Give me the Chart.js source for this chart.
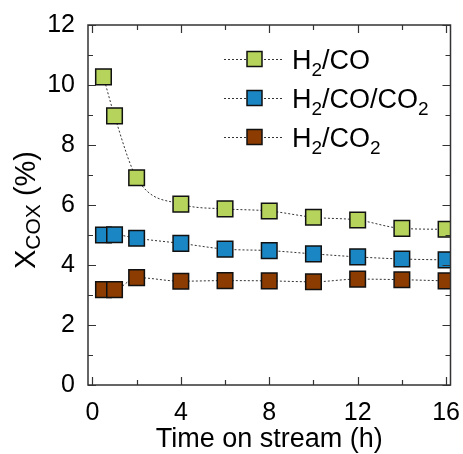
<!DOCTYPE html>
<html><head><meta charset="utf-8">
<script src="https://cdn.jsdelivr.net/npm/chart.js@4"></script>
<style>html,body{margin:0;padding:0;background:#fff}</style>
</head><body>
<div style="width:463px;height:454px"><canvas id="c" width="463" height="454"></canvas></div>
<script>
const times = [0.5, 1, 2, 4, 6, 8, 10, 12, 14, 16];
const h2co = [10.27, 8.97, 6.91, 6.03, 5.87, 5.80, 5.59, 5.50, 5.22, 5.19];
const h2coco2 = [5.00, 5.01, 4.89, 4.72, 4.53, 4.48, 4.37, 4.27, 4.20, 4.17];
const h2co2 = [3.18, 3.18, 3.58, 3.46, 3.48, 3.47, 3.44, 3.53, 3.51, 3.47];
const seriesNames = ['H2/CO', 'H2/CO/CO2', 'H2/CO2'];
const seriesColors = ['#b6d35b', '#1a86c3', '#8c3c00'];
const xTicks = [0, 4, 8, 12, 16];
const xMinor = [2, 6, 10, 14];
const yTicks = [0, 2, 4, 6, 8, 10, 12];
const yMinor = [1, 3, 5, 7, 9, 11];
const xTitle = 'Time on stream (h)';
const yTitle = 'X_COX (%)';

const FONT = '"Liberation Sans", Arial, sans-serif';
Chart.defaults.font.family = FONT;
Chart.defaults.color = '#000';

const allSeries = [h2co, h2coco2, h2co2];

function chemParts(s) {
  const parts = [];
  for (const ch of s) {
    const sub = /[0-9]/.test(ch);
    if (parts.length && parts[parts.length - 1].sub === sub) parts[parts.length - 1].t += ch;
    else parts.push({ t: ch, sub });
  }
  return parts;
}
function titleParts(s) {
  const m = s.match(/^([^_]*)_(\S+)(.*)$/);
  if (!m) return [{ t: s, sub: false }];
  return [{ t: m[1], sub: false }, { t: m[2], sub: true }, { t: m[3], sub: false }];
}
function richWidth(ctx, parts, size, subSize) {
  let w = 0;
  for (const p of parts) { ctx.font = (p.sub ? subSize : size) + 'px ' + FONT; w += ctx.measureText(p.t).width; }
  return w;
}
function drawRich(ctx, parts, x, y, size, subSize, subShift) {
  ctx.textBaseline = 'alphabetic';
  ctx.textAlign = 'left';
  for (const p of parts) {
    ctx.font = (p.sub ? subSize : size) + 'px ' + FONT;
    ctx.fillText(p.t, x, y + (p.sub ? subShift : 0));
    x += ctx.measureText(p.t).width;
  }
}

const decor = {
  id: 'decor',
  afterDraw(chart) {
    const ctx = chart.ctx, a = chart.chartArea;
    const xs = chart.scales.x, ys = chart.scales.y;
    ctx.save();
    ctx.strokeStyle = '#333';
    ctx.lineWidth = 1.5;
    ctx.strokeRect(a.left, a.top, a.right - a.left, a.bottom - a.top);
    ctx.lineWidth = 1.2;
    ctx.beginPath();
    const tx = (v, len) => {
      const p = Math.round(xs.getPixelForValue(v)) + 0.5;
      ctx.moveTo(p, a.bottom); ctx.lineTo(p, a.bottom - len);
      ctx.moveTo(p, a.top); ctx.lineTo(p, a.top + len);
    };
    const ty = (v, len) => {
      const p = Math.round(ys.getPixelForValue(v)) + 0.5;
      ctx.moveTo(a.left, p); ctx.lineTo(a.left + len, p);
      ctx.moveTo(a.right, p); ctx.lineTo(a.right - len, p);
    };
    xTicks.forEach(v => tx(v, 8)); xMinor.forEach(v => tx(v, 5));
    yTicks.forEach(v => ty(v, 8)); yMinor.forEach(v => ty(v, 5));
    ctx.stroke();

    ctx.fillStyle = '#000';
    ctx.font = '27px ' + FONT;
    ctx.textAlign = 'center';
    ctx.textBaseline = 'alphabetic';
    ctx.fillText(xTitle, (a.left + a.right) / 2, 447);
    const tp = titleParts(yTitle);
    const w = richWidth(ctx, tp, 29, 21);
    ctx.save();
    ctx.translate(35, (a.top + a.bottom) / 2 + 5);
    ctx.rotate(-Math.PI / 2);
    drawRich(ctx, tp, -w / 2, 0, 29, 21, 5);
    ctx.restore();

    seriesNames.forEach((name, i) => {
      const y = 59 + 39 * i;
      ctx.strokeStyle = '#333';
      ctx.lineWidth = 1;
      ctx.setLineDash([2, 2]);
      ctx.beginPath();
      ctx.moveTo(224, y + 0.5); ctx.lineTo(246, y + 0.5);
      ctx.moveTo(264, y + 0.5); ctx.lineTo(284, y + 0.5);
      ctx.stroke();
      ctx.setLineDash([]);
      ctx.fillStyle = seriesColors[i];
      ctx.fillRect(247, y - 7.5, 15, 15);
      ctx.strokeStyle = '#111';
      ctx.lineWidth = 1.5;
      ctx.strokeRect(247, y - 7.5, 15, 15);
      ctx.fillStyle = '#000';
      drawRich(ctx, chemParts(name), 292, y + 10, 27, 19, 7);
    });
    ctx.restore();
  }
};

new Chart(document.getElementById('c'), {
  type: 'line',
  data: {
    datasets: allSeries.map((vals, i) => ({
      label: seriesNames[i],
      data: times.map((t, j) => ({ x: t, y: vals[j] })),
      borderColor: '#333',
      borderWidth: 1,
      borderDash: [2, 2],
      cubicInterpolationMode: 'monotone',
      pointStyle: 'rect',
      pointRadius: 11,
      pointBackgroundColor: seriesColors[i],
      pointBorderColor: '#111',
      pointBorderWidth: 1.5,
      clip: 0
    }))
  },
  options: {
    responsive: false,
    animation: false,
    events: [],
    layout: { padding: { top: 25, right: 10, left: 0, bottom: 0 } },
    plugins: { legend: { display: false }, tooltip: { enabled: false } },
    scales: {
      x: {
        type: 'linear', min: -0.2, max: 16.2,
        afterBuildTicks: s => { s.ticks = xTicks.map(v => ({ value: v })); },
        afterFit: s => { s.height = 69; s.paddingLeft = 0; s.paddingRight = 0; },
        grid: { display: false, drawTicks: false },
        border: { display: false },
        ticks: { font: { size: 25 }, padding: 13, maxRotation: 0, autoSkip: false, color: '#000' }
      },
      y: {
        type: 'linear', min: 0, max: 12,
        afterBuildTicks: s => { s.ticks = yTicks.map(v => ({ value: v })); },
        afterFit: s => { s.width = 88; s.paddingTop = 0; s.paddingBottom = 0; },
        grid: { display: false, drawTicks: false },
        border: { display: false },
        ticks: { font: { size: 25 }, padding: 13, autoSkip: false, color: '#000' }
      }
    }
  },
  plugins: [decor]
});
</script>
</body></html>
